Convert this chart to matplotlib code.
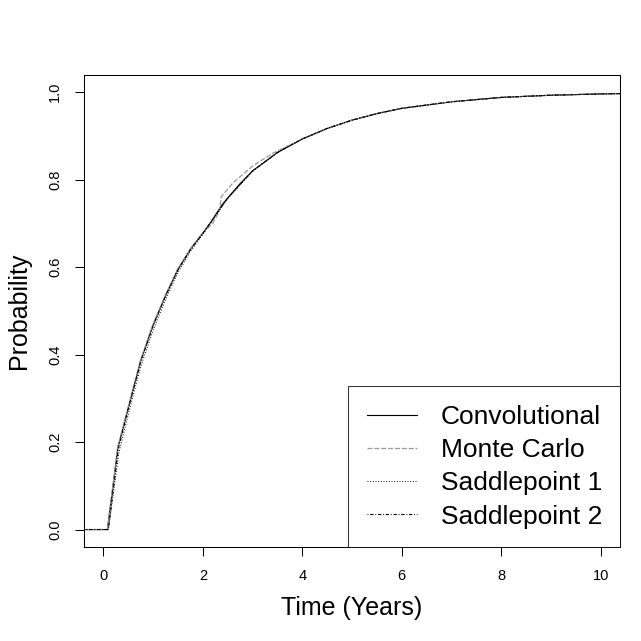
import matplotlib

matplotlib.use("Agg")
import matplotlib.pyplot as plt

plt.rcParams["font.family"] = ["Liberation Sans", "DejaVu Sans"]

# values (time in years, cumulative probability)
time_conv = [-0.5, 0.08, 0.29, 0.5, 0.75, 1.0, 1.25, 1.5, 1.75, 2.0, 2.17,
             2.37, 2.5, 2.75, 3.0, 3.5, 4.0, 4.5, 5.0, 5.5, 6.0, 7.0, 8.0,
             9.0, 10.0, 11.0]
conv = [0, 0, 0.187, 0.278, 0.386, 0.468, 0.535, 0.595, 0.641, 0.678, 0.704,
        0.740, 0.758, 0.791, 0.820, 0.862, 0.893, 0.917, 0.936, 0.951, 0.963,
        0.978, 0.988, 0.993, 0.996, 0.998]

time_mc = [-0.5, 0.08, 0.29, 0.5, 0.75, 1.0, 1.25, 1.5, 1.75, 2.0, 2.2, 2.33,
           2.37, 2.6, 3.0, 3.4, 4.0, 4.5, 5.0, 5.5, 6.0, 7.0, 8.0, 9.0, 10.0,
           11.0]
mc = [0, 0, 0.19, 0.281, 0.389, 0.47, 0.537, 0.597, 0.642, 0.679, 0.70,
      0.728, 0.761, 0.792, 0.831, 0.86, 0.893, 0.917, 0.936, 0.951, 0.963,
      0.978, 0.988, 0.993, 0.996, 0.998]

time_sp1 = [-0.5, 0.1, 0.31, 0.5, 0.75, 1.0, 1.25, 1.5, 1.75, 2.0, 2.5, 3.0,
            3.5, 4.0, 4.5, 5.0, 5.5, 6.0, 7.0, 8.0, 9.0, 10.0, 11.0]
sp1 = [0, 0, 0.175, 0.263, 0.372, 0.456, 0.526, 0.588, 0.636, 0.675, 0.757,
       0.819, 0.862, 0.893, 0.917, 0.936, 0.951, 0.963, 0.978, 0.988, 0.993,
       0.996, 0.998]

time_sp2 = [-0.5, 0.1, 0.3, 0.5, 0.75, 1.0, 1.25, 1.5, 1.75, 2.0, 2.5, 3.0,
            3.5, 4.0, 4.5, 5.0, 5.5, 6.0, 7.0, 8.0, 9.0, 10.0, 11.0]
sp2 = [0, 0, 0.185, 0.276, 0.384, 0.466, 0.534, 0.594, 0.640, 0.677, 0.758,
       0.820, 0.862, 0.893, 0.917, 0.936, 0.951, 0.963, 0.978, 0.988, 0.993,
       0.996, 0.998]

labels = ["Convolutional", "Monte Carlo", "Saddlepoint 1", "Saddlepoint 2"]

fig = plt.figure(figsize=(6.41, 6.41), dpi=100)
ax = fig.add_axes([0.1303, 0.1466, 0.968 - 0.1303, 0.8835 - 0.1466])

ax.plot(time_conv, conv, color="black", lw=0.8, label=labels[0])
ax.plot(time_mc, mc, color="#999999", lw=0.9, dashes=(4, 1.5), label=labels[1])
ax.plot(time_sp1, sp1, color="black", lw=0.8, dashes=(0.8, 1.6), label=labels[2])
ax.plot(time_sp2, sp2, color="black", lw=0.8, dashes=(0.8, 1.6, 3, 1.6),
        label=labels[3])

ax.set_xlim(-0.4, 10.4)
ax.set_ylim(-0.04, 1.04)
ax.set_xticks([0, 2, 4, 6, 8, 10])
ax.set_yticks([0.0, 0.2, 0.4, 0.6, 0.8, 1.0])
ax.set_yticklabels(["0.0", "0.2", "0.4", "0.6", "0.8", "1.0"], rotation=90,
                   va="center")
ax.tick_params(labelsize=10.5, length=6.5, width=0.75, pad=9)

for sp in ax.spines.values():
    sp.set_linewidth(0.75)

ax.set_xlabel("Time (Years)", fontsize=18, labelpad=10)
ax.set_ylabel("Probability", fontsize=18, labelpad=12)

leg = ax.legend(loc="lower right", fontsize=19, frameon=True, fancybox=False,
                borderaxespad=0, handlelength=1.9, handletextpad=0.9,
                borderpad=0.7, labelspacing=0.35)
leg.get_frame().set_edgecolor("black")
leg.get_frame().set_linewidth(0.75)

fig.savefig("out.png", dpi=100)
